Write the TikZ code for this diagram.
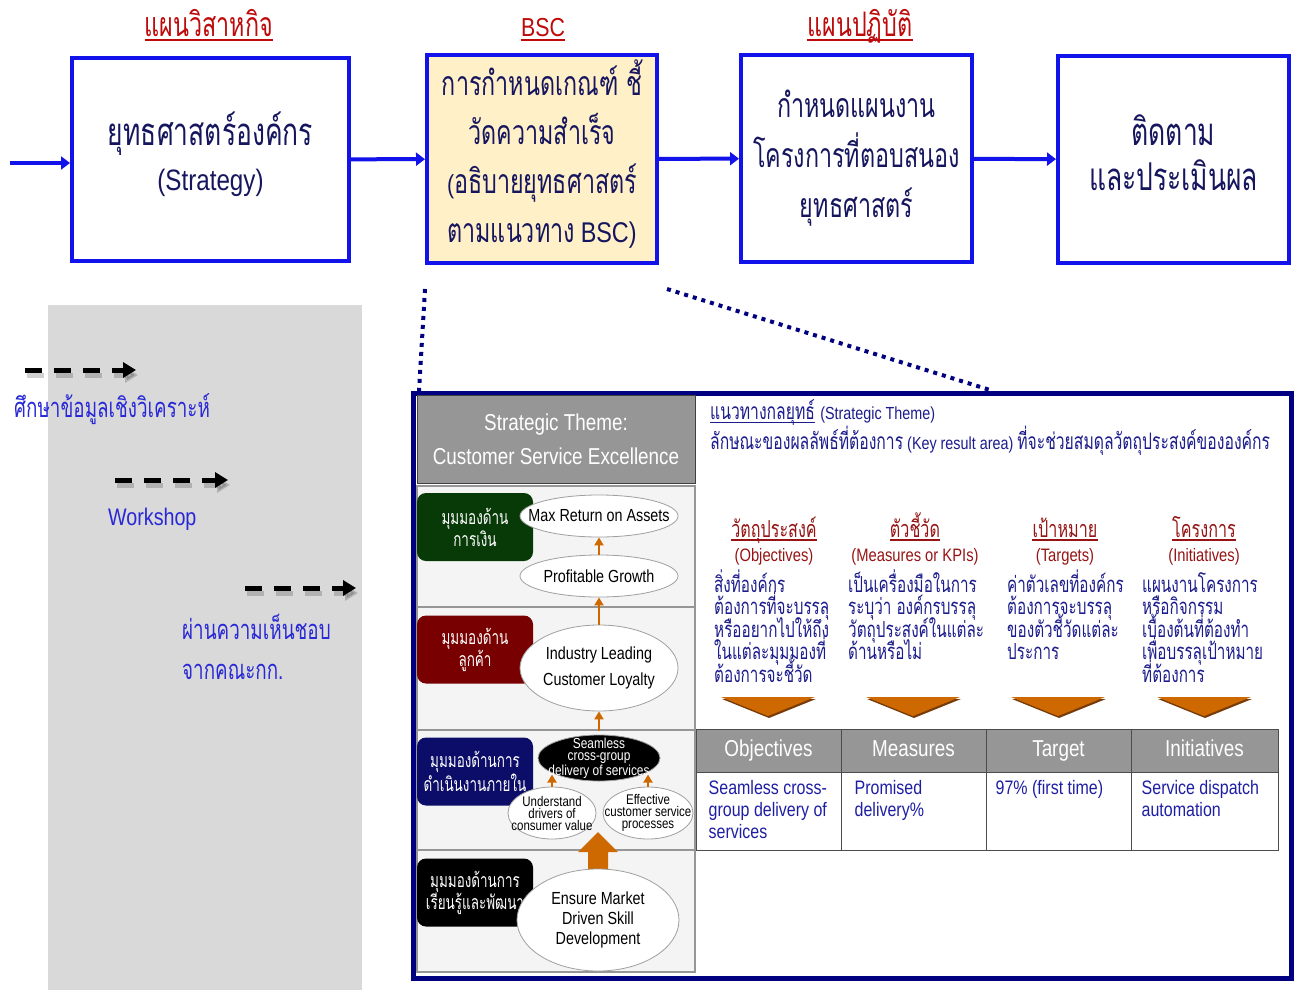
\documentclass[tikz,border=0pt]{standalone}
\usepackage{fontspec}
\setmainfont{Liberation Sans}[FakeStretch=0.82]
\newfontfamily\thaifnt[Script=Thai,Scale=1.3,FakeStretch=0.69]{Loma}
\newcommand\T[1]{{\thaifnt #1}}
\newcommand\fs[2]{\fontsize{#1}{#2}\selectfont}
\usetikzlibrary{arrows.meta,shapes.geometric,calc}

\definecolor{flowblue}{RGB}{18,18,235}
\definecolor{boxtext}{RGB}{22,22,95}
\definecolor{titlered}{RGB}{190,10,10}
\definecolor{paleyellow}{RGB}{255,240,200}
\definecolor{panelgray}{RGB}{217,217,217}
\definecolor{legendblue}{RGB}{40,40,215}
\definecolor{framenavy}{RGB}{0,0,128}
\definecolor{hdrgray}{RGB}{150,150,150}
\definecolor{rowbg}{RGB}{244,244,244}
\definecolor{rowline}{RGB}{150,150,150}
\definecolor{fingreen}{RGB}{8,58,8}
\definecolor{custred}{RGB}{120,0,0}
\definecolor{intnavy}{RGB}{12,12,105}
\definecolor{mapOrange}{RGB}{205,105,0}
\definecolor{chevShade}{RGB}{120,60,10}
\definecolor{textnavy}{RGB}{28,28,140}
\definecolor{colred}{RGB}{150,20,20}
\definecolor{cellblue}{RGB}{30,30,165}

\tikzset{
  stagebox/.style={draw=flowblue, line width=4, inner sep=0},
  stagetext/.style={align=center, text=boxtext, font=\fs{29.5}{45}, inner sep=0},
  stagetitle/.style={text=titlered, font=\fs{26}{30}, anchor=base, inner sep=0},
  flow/.style={draw=flowblue, line width=4, -{Triangle[length=9,width=13]}},
  legarrow/.style={line width=5, dash pattern=on 17 off 12, -{Triangle[length=13,width=15]}},
  legtext/.style={text=legendblue, font=\fs{24}{30}, anchor=west, inner sep=0},
  dotlink/.style={draw=framenavy, line width=4, dash pattern=on 4 off 5},
  persp/.style={rounded corners=9, minimum width=116, minimum height=68, text=white, align=center, font=\fs{15}{22}, inner sep=0},
  oval/.style={ellipse, draw=gray!75, fill=white, inner sep=0, line width=0.8},
  ovaltext/.style={align=center, inner sep=0},
  oarrow/.style={draw=mapOrange, line width=2.5, -{Triangle[length=8,width=9]}},
  rtext/.style={text=textnavy, font=\fs{17.5}{22}, inner sep=0},
  coltitle/.style={text=colred, font=\fs{18}{22}, anchor=base, inner sep=0},
  colbody/.style={text=textnavy, font=\fs{17}{22}, anchor=base west, inner sep=0},
  thead/.style={fill=hdrgray, draw=gray!60!black, line width=1, minimum width=145, minimum height=43,
                text=white, font=\fs{23}{24}, text height=16, text depth=5, inner sep=0},
  tcell/.style={fill=white, draw=gray!60!black, line width=1, minimum width=145, minimum height=78, inner sep=0},
  celltext/.style={text=cellblue, font=\fs{19.5}{22}, anchor=north west, align=left, inner sep=0},
}

\begin{document}
\begin{tikzpicture}[x=1pt,y=-1pt]
\useasboundingbox (0,0) rectangle (1295,990);
\fill[white] (0,0) rectangle (1295,990);

% grey panel behind the legend
\fill[panelgray] (48,305) rectangle (362,990);

% stage titles
\node[stagetitle] (t1) at (209,37) {\T{แผนวิสาหกิจ}};
\node[stagetitle] (t2) at (543,37) {BSC};
\node[stagetitle] (t3) at (860,37) {\T{แผนปฏิบัติ}};
\foreach \t in {t1,t2,t3}
  \draw[titlered, line width=1.3] ([yshift=-3]\t.base west) -- ([yshift=-3]\t.base east);

% planning stages
\node[stagebox, minimum width=277, minimum height=203] (b1) at (210.5,159.5) {};
\node[stagebox, fill=paleyellow, minimum width=230, minimum height=208] (b2) at (542,159) {};
\node[stagebox, minimum width=231, minimum height=207] (b3) at (856.5,158.5) {};
\node[stagebox, minimum width=231, minimum height=207] (b4) at (1173.5,159.5) {};
\node[stagetext] (b1t) at (210.5,154) {\T{ยุทธศาสตร์องค์กร}\\(Strategy)};
\node[stagetext, font=\fs{26}{49}] (b2t) at (542,154)
  {\T{การกำหนดเกณฑ์ ชี้}\\\T{วัดความสำเร็จ}\\(\T{อธิบายยุทธศาสตร์}\\\T{ตามแนวทาง} {\fs{28.5}{49}BSC)}};
\node[stagetext, font=\fs{26}{50}] (b3t) at (856.5,158.5)
  {\T{กำหนดแผนงาน}\\\T{โครงการที่ตอบสนอง}\\\T{ยุทธศาสตร์}};
\node[stagetext] (b4t) at (1173.5,152.5) {\T{ติดตาม}\\\T{และประเมินผล}};

\coordinate (feed) at (10,163);
\draw[flow] (feed) -- (b1.west |- feed);
\draw[flow] (b1) -- (b2);
\draw[flow] (b2) -- (b3);
\draw[flow] (b3) -- (b4);

% legend arrows with soft shadows
\coordinate (a1s) at (25,370);  \coordinate (a1e) at (136,370);
\coordinate (a2s) at (115,480); \coordinate (a2e) at (228,480);
\coordinate (a3s) at (245,588); \coordinate (a3e) at (356,588);
\foreach \s/\e in {a1s/a1e,a2s/a2e,a3s/a3e} {
  \draw[legarrow, black, opacity=0.18, transform canvas={shift={(2pt,-5pt)}}] (\s) -- (\e);
  \draw[legarrow, black] (\s) -- (\e);
}
\node[legtext, font=\fs{21}{30}] (l1) at (14,409) {\T{ศึกษาข้อมูลเชิงวิเคราะห์}};
\node[legtext] (l2) at (108,519) {Workshop};
\node[legtext, font=\fs{21}{30}] (l3) at (182,627) {\T{ผ่านความเห็นชอบ}};
\node[legtext, font=\fs{21}{30}] (l4) at (182,672) {\T{จากคณะกก.}};

% zoom frame and its guide lines
\node[draw=framenavy, line width=5, minimum width=878, minimum height=585, inner sep=0] (frame) at (852,685.5) {};
\coordinate (g1s) at (425,289); \coordinate (g1e) at (419,391);
\coordinate (g2s) at (667,289); \coordinate (g2e) at (990,390);
\draw[dotlink] (g1s) -- (g1e);
\draw[dotlink] (g2s) -- (g2e);

% strategy map
\fill[rowbg] (417,486) rectangle (695,972);
\draw[rowline, line width=1.2] (417,607) -- (695,607) (417,730) -- (695,730) (417,850) -- (695,850);
\draw[rowline, line width=1.2] (417,486) rectangle (695,972);
\node[fill=hdrgray, draw=gray!50!black, line width=1, minimum width=278, minimum height=88, inner sep=0,
      text=white, align=center, font=\fs{23}{34}] (theme) at (556,439) {Strategic Theme:\\Customer Service Excellence};

\node[persp, fill=fingreen] (p1) at (475,527) {\T{มุมมองด้าน}\\\T{การเงิน}};
\node[persp, fill=custred] (p2) at (475,649.5) {\T{มุมมองด้าน}\\\T{ลูกค้า}};
\node[persp, fill=intnavy] (p3) at (475,771.5) {\T{มุมมองด้านการ}\\\T{ดำเนินงานภายใน}};
\node[persp, fill=black] (p4) at (475,892.5) {\T{มุมมองด้านการ}\\\T{เรียนรู้และพัฒนา}};

% objectives as ovals, their captions laid on top
\node[oval, minimum width=158, minimum height=42] (e1) at (599,516) {};
\node[oval, minimum width=158, minimum height=42] (e2) at (599,576) {};
\node[oval, minimum width=158, minimum height=86] (e3) at (599,668) {};
\node[oval, fill=black, minimum width=122, minimum height=46] (e4) at (599,758) {};
\node[oval, minimum width=88, minimum height=52] (e5) at (552,813) {};
\node[oval, minimum width=90, minimum height=52] (e6) at (648,813) {};
\fill[mapOrange] ($(598,869)+(-10,12)$) -- ++(0,-29) -- ++(-10,0) -- (598,832) -- (618,852) -- ++(-10,0) -- ++(0,29) -- cycle;
\node[oval, minimum width=162, minimum height=102] (e7) at (598,920) {};

\node[ovaltext, font=\fs{17.5}{18}] (e1t) at (e1) {Max Return on Assets};
\node[ovaltext, font=\fs{17.5}{18}] (e2t) at (e2) {Profitable Growth};
\node[ovaltext, font=\fs{17.5}{26}] (e3t) at (e3) {Industry Leading\\Customer Loyalty};
\node[ovaltext, text=white, font=\fs{14.5}{12.5}] (e4t) at (e4) {Seamless\\cross-group\\delivery of services};
\node[ovaltext, font=\fs{14}{12}] (e5t) at (e5) {Understand\\drivers of\\consumer value};
\node[ovaltext, font=\fs{14}{12}] (e6t) at (e6) {Effective\\customer service\\processes};
\node[ovaltext, font=\fs{17.5}{20}] (e7t) at (e7) {Ensure Market\\Driven Skill\\Development};

\draw[oarrow] (e2.north) -- (e1.south);
\draw[oarrow] (e3.north) -- (e2.south);
\draw[oarrow] (e4.north |- 0,731) -- (e3.south);
\draw[oarrow] (e5.north) -- (e5.north |- e4.south west);
\draw[oarrow] (e6.north) -- (e6.north |- e4.south east);

% explanation of the scorecard columns
\node[rtext, anchor=base west] (st1) at (710,419) {\T{แนวทางกลยุทธ์}};
\node[rtext, anchor=base west] (st2) at ([xshift=5]st1.base east) {(Strategic Theme)};
\draw[textnavy, line width=1] ([yshift=-3]st1.base west) -- ([yshift=-3]st1.base east);
\node[rtext, anchor=base west] (st3) at (710,449)
  {\T{ลักษณะของผลลัพธ์ที่ต้องการ} (Key result area) \T{ที่จะช่วยสมดุลวัตถุประสงค์ขององค์กร}};

\node[coltitle] (k1) at (774,537) {\T{วัตถุประสงค์}};
\node[coltitle] (k2) at (915,537) {\T{ตัวชี้วัด}};
\node[coltitle] (k3) at (1065,537) {\T{เป้าหมาย}};
\node[coltitle] (k4) at (1204,537) {\T{โครงการ}};
\foreach \k in {k1,k2,k3,k4}
  \draw[colred, line width=1.2] ([yshift=-3]\k.base west) -- ([yshift=-3]\k.base east);
\node[coltitle] (s1) at (774,561) {(Objectives)};
\node[coltitle] (s2) at (915,561) {(Measures or KPIs)};
\node[coltitle] (s3) at (1065,561) {(Targets)};
\node[coltitle] (s4) at (1204,561) {(Initiatives)};

\foreach \s [count=\i] in {สิ่งที่องค์กร,ต้องการที่จะบรรลุ,หรืออยากไปให้ถึง,ในแต่ละมุมมองที่,ต้องการจะชี้วัด}
  \node[colbody] (oa\i) at (714,{592+22.5*(\i-1)}) {\T{\s}};
\foreach \s [count=\i] in {เป็นเครื่องมือในการ,ระบุว่า องค์กรบรรลุ,วัตถุประสงค์ในแต่ละ,ด้านหรือไม่}
  \node[colbody] (ob\i) at (848,{592+22.5*(\i-1)}) {\T{\s}};
\foreach \s [count=\i] in {ค่าตัวเลขที่องค์กร,ต้องการจะบรรลุ,ของตัวชี้วัดแต่ละ,ประการ}
  \node[colbody] (oc\i) at (1007,{592+22.5*(\i-1)}) {\T{\s}};
\foreach \s [count=\i] in {แผนงานโครงการ,หรือกิจกรรม,เบื้องต้นที่ต้องทำ,เพื่อบรรลุเป้าหมาย,ที่ต้องการ}
  \node[colbody] (od\i) at (1142,{592+22.5*(\i-1)}) {\T{\s}};

% downward chevrons
\foreach \cx in {768,913,1058,1204} {
  \fill[chevShade] (\cx-46,699) -- (\cx+48,699) -- (\cx+1,718) -- cycle;
  \fill[mapOrange] (\cx-47,697) -- (\cx+47,697) -- (\cx,716) -- cycle;
}

% scorecard table
\node[thead] (h1) at (768.5,750.5) {Objectives};
\node[thead] (h2) at (913.5,750.5) {Measures};
\node[thead] (h3) at (1058.5,750.5) {Target};
\node[thead, minimum width=147] (h4) at (1204.5,750.5) {Initiatives};
\node[tcell] (c1) at (768.5,811) {};
\node[tcell] (c2) at (913.5,811) {};
\node[tcell] (c3) at (1058.5,811) {};
\node[tcell, minimum width=147] (c4) at (1204.5,811) {};
\node[celltext] (x1) at ([xshift=13,yshift=-9]c1.north west) {Seamless cross-\\group delivery of\\services};
\node[celltext] (x2) at ([xshift=14,yshift=-9]c2.north west) {Promised\\delivery\%};
\node[celltext] (x3) at ([xshift=10,yshift=-9]c3.north west) {97\% (first time)};
\node[celltext] (x4) at ([xshift=11,yshift=-9]c4.north west) {Service dispatch\\automation};
\end{tikzpicture}
\end{document}
